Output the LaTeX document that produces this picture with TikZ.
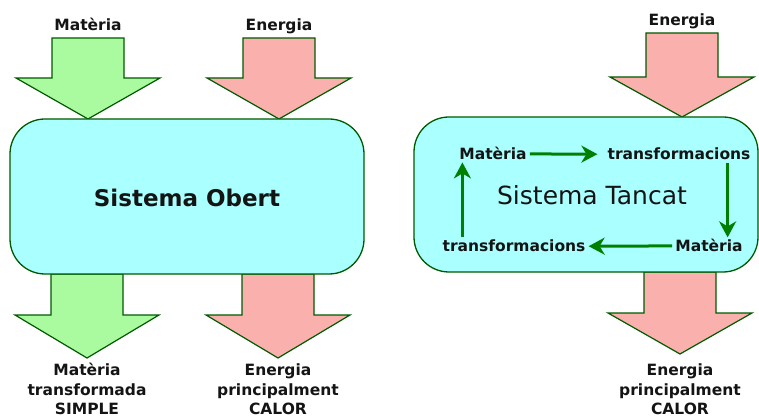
\documentclass[tikz,border=0pt]{standalone}
\usepackage{fontspec}
\setmainfont{DejaVu Sans}
\usetikzlibrary{arrows.meta}
\definecolor{matgreen}{RGB}{170,250,160}
\definecolor{enred}{RGB}{250,176,172}
\definecolor{syscyan}{RGB}{170,255,255}
\definecolor{outline}{RGB}{0,90,0}
\definecolor{flowgreen}{RGB}{0,128,0}
\definecolor{txt}{RGB}{20,20,20}
\newcommand\bigdownarrow[5]{%
  \filldraw[bigarrow, fill=#5] (#1-36,#2) -- (#1+36,#2) -- (#1+36,#3) -- (#1+72,#3)
    -- (#1,#4) -- (#1-72,#3) -- (#1-36,#3) -- cycle;}
\begin{document}
\begin{tikzpicture}[x=1pt,y=-1pt,
  bigarrow/.style={draw=outline, line width=1.2pt, line join=miter},
  sysbox/.style={draw=outline, fill=syscyan, line width=1.3pt, rounded corners=35pt},
  lbl/.style={font=\fontsize{15.5}{19}\selectfont\bfseries, text=txt, inner sep=2pt, anchor=base},
  flow/.style={draw=flowgreen, line width=3pt, -{Stealth[length=16pt,width=17pt,inset=5pt]}}]
\useasboundingbox (0,0) rectangle (759,419);
% arrows left system
\bigdownarrow{88}{38}{78}{119}{matgreen}
\bigdownarrow{279}{38}{78}{119}{enred}
\bigdownarrow{87}{274}{315}{358}{matgreen}
\bigdownarrow{278}{274}{315}{358}{enred}
% arrows right system
\bigdownarrow{682}{33}{77}{117}{enred}
\bigdownarrow{680}{272}{313}{354}{enred}
% boxes
\path[sysbox] (10,119) rectangle (364,274);
\path[sysbox] (414,117) rectangle (758,272);
% left labels
\node[lbl] (inmat) at (88,31) {Matèria};
\node[lbl] (inen) at (279,31) {Energia};
\node[font=\fontsize{23}{27}\selectfont\bfseries, text=txt, anchor=base] (obert) at (187,207) {Sistema Obert};
\node[lbl] (om1) at (87,375) {Matèria};
\node[lbl] (om2) at (87,395) {transformada};
\node[lbl] (om3) at (87,414) {SIMPLE};
\node[lbl] (oe1) at (278,375) {Energia};
\node[lbl] (oe2) at (278,395) {principalment};
\node[lbl] (oe3) at (278,414) {CALOR};
% right labels
\node[lbl] (inen2) at (682,26) {Energia};
\node[lbl] (te1) at (680,375) {Energia};
\node[lbl] (te2) at (680,395) {principalment};
\node[lbl] (te3) at (680,414) {CALOR};
\node[font=\fontsize{25}{29}\selectfont, text=txt, anchor=base] (tancat) at (592,205) {Sistema Tancat};
\node[lbl] (m1) at (493,160) {Matèria};
\node[lbl] (t1) at (679,160) {transformacions};
\node[lbl] (m2) at (709,252) {Matèria};
\node[lbl] (t2) at (514,252) {transformacions};
% cycle
\draw[flow, shorten <=1pt, shorten >=8pt] (m1.east) -- (t1.west);
\draw[flow, shorten <=1pt] ([xshift=-25pt]t1.south east) -- ([xshift=-25pt]t1.south east |- m2.north);
\draw[flow, shorten <=1pt, shorten >=1pt] (m2.west) -- (t2.east);
\draw[flow, shorten <=1pt] ([xshift=22pt]t2.north west) -- ([xshift=22pt]t2.north west |- m1.south);
\end{tikzpicture}
\end{document}
